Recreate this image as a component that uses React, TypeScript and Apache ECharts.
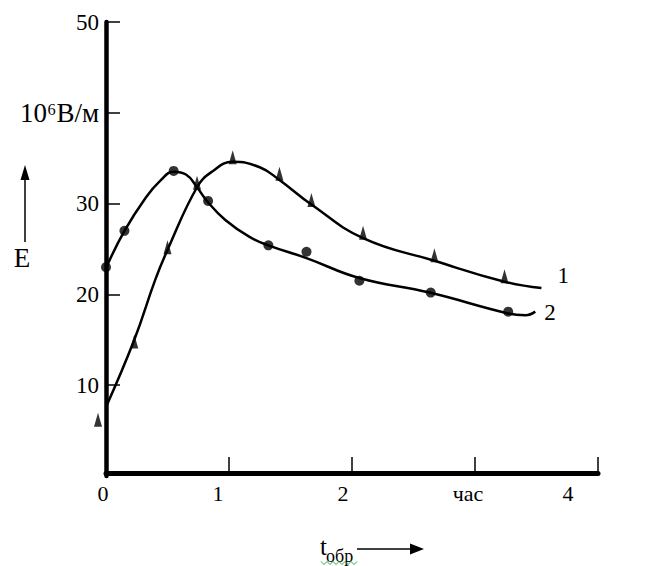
import React, { useEffect, useRef } from 'react';
import * as echarts from 'echarts';

// Axis tick labels
const xTickValues = [0, 1, 2, 3, 4];
const xTickLabels = ['0', '1', '2', 'час', '4'];
const yTickValues = [10, 20, 30, 40, 50];
const yTickLabels = ['10', '20', '30', '10⁶В/м', '50'];

// Curve 1 (fitted line) and its measured points (triangles)
const curve1X = [0, 0.23, 0.4, 0.5, 0.74, 0.86, 1.03, 1.25, 1.41, 1.67, 2.09, 2.67, 3.24, 3.54];
const curve1Y = [7.6, 15.0, 21.6, 24.9, 31.8, 33.5, 34.6, 34.0, 32.6, 29.9, 26.2, 23.7, 21.4, 20.7];
const tri1X = [-0.065, 0.23, 0.5, 0.74, 1.03, 1.41, 1.67, 2.09, 2.67, 3.24];
const tri1Y = [6.2, 14.8, 25.2, 32.3, 35.1, 33.3, 30.4, 26.8, 24.3, 22.0];

// Curve 2 (fitted line) and its measured points (circles)
const curve2X = [0, 0.15, 0.32, 0.44, 0.55, 0.65, 0.74, 0.82, 0.97, 1.17, 1.32, 1.63, 2.06, 2.63, 3.27, 3.41, 3.49];
const curve2Y = [22.9, 27.0, 30.6, 32.5, 33.5, 33.2, 31.8, 30.3, 28.2, 26.3, 25.4, 24.0, 21.8, 20.2, 17.9, 17.7, 18.1];
const circ2X = [0, 0.15, 0.55, 0.83, 1.32, 1.63, 2.06, 2.64, 3.27];
const circ2Y = [23.0, 27.0, 33.6, 30.3, 25.4, 24.7, 21.5, 20.2, 18.1];

const seriesNames = ['1', '2'];

const FONT = "'Liberation Serif', 'Times New Roman', serif";

const zip = (xs: number[], ys: number[]) => xs.map((x, i) => [x, ys[i]]);

export default function App() {
  const ref = useRef<HTMLDivElement>(null);

  useEffect(() => {
    if (!ref.current) return;
    const chart = echarts.init(ref.current, null, { renderer: 'svg' });

    const squiggle: number[][] = [];
    for (let i = 0; i <= 12; i++) squiggle.push([321 + i * 3, i % 2 === 0 ? 561.5 : 564.5]);

    const base = { fontFamily: FONT, fontSize: 22, color: '#000' };
    const xRich: Record<string, any> = {
      p0: { ...base, padding: [0, 6, 0, 0] },
      p1: { ...base, padding: [0, 22, 0, 0] },
      p2: { ...base, padding: [0, 18, 0, 0] },
      p3: { ...base, padding: [0, 14, 0, 0] },
      p4: { ...base, padding: [0, 60, 0, 0] },
    };

    chart.setOption({
      animation: false,
      backgroundColor: '#fff',
      textStyle: { fontFamily: FONT },
      grid: { left: 106, right: 47, top: 22, bottom: 90, containLabel: false },
      xAxis: {
        type: 'value',
        min: 0,
        max: 4,
        interval: 1,
        offset: -3,
        axisLine: { show: true, onZero: false, lineStyle: { color: '#000', width: 5 } },
        axisTick: { show: true, inside: true, length: 16, lineStyle: { color: '#000', width: 1.5 } },
        axisLabel: {
          margin: 9,
          color: '#000',
          fontFamily: FONT,
          fontSize: 22,
          formatter: (v: number) => {
            const i = xTickValues.indexOf(Math.round(v * 1000) / 1000);
            return i >= 0 ? `{p${i}|${xTickLabels[i]}}` : '';
          },
          rich: xRich,
        },
        splitLine: { show: false },
      },
      yAxis: {
        type: 'value',
        min: 0,
        max: 50,
        interval: 10,
        axisLine: { show: true, lineStyle: { color: '#000', width: 4.5 } },
        axisTick: {
          show: true,
          inside: true,
          length: 14,
          customValues: yTickValues,
          lineStyle: { color: '#000', width: 1.5 },
        },
        axisLabel: {
          margin: 7,
          color: '#000',
          fontFamily: FONT,
          fontSize: 23,
          customValues: yTickValues,
          formatter: (v: number) => {
            const i = yTickValues.indexOf(Math.round(v));
            if (i < 0) return '';
            return v === 40 ? `{u|${yTickLabels[i]}}` : yTickLabels[i];
          },
          rich: { u: { fontFamily: FONT, fontSize: 27, color: '#000', padding: [0, 0, 0, 0] } },
        },
        splitLine: { show: false },
      },
      series: [
        {
          name: seriesNames[0],
          type: 'line',
          data: zip(curve1X, curve1Y),
          smooth: 0.45,
          showSymbol: false,
          lineStyle: { color: '#000', width: 2.5 },
          endLabel: {
            show: true,
            formatter: seriesNames[0],
            color: '#000',
            fontFamily: FONT,
            fontSize: 23,
            offset: [8, -13],
          },
          z: 2,
        },
        {
          name: seriesNames[1],
          type: 'line',
          data: zip(curve2X, curve2Y),
          smooth: 0.45,
          showSymbol: false,
          lineStyle: { color: '#000', width: 2.5 },
          endLabel: {
            show: true,
            formatter: seriesNames[1],
            color: '#000',
            fontFamily: FONT,
            fontSize: 23,
            offset: [1, 1],
          },
          z: 2,
        },
        {
          type: 'scatter',
          data: zip(tri1X, tri1Y),
          symbol: 'triangle',
          symbolSize: [8, 14],
          itemStyle: { color: '#000' },
          clip: false,
          z: 3,
        },
        {
          type: 'scatter',
          data: zip(circ2X, circ2Y),
          symbol: 'circle',
          symbolSize: 10,
          itemStyle: { color: '#000' },
          clip: false,
          z: 3,
        },
      ],
      graphic: [
        { type: 'line', shape: { x1: 25, y1: 242, x2: 25, y2: 178 }, style: { stroke: '#000', lineWidth: 1.5 } },
        { type: 'polygon', shape: { points: [[25, 165], [20.5, 180], [29.5, 180]] }, style: { fill: '#000' } },
        {
          type: 'text',
          style: { text: 'E', x: 22, y: 258, align: 'center', verticalAlign: 'middle', fontSize: 27, fontFamily: FONT, fill: '#000' },
        },
        {
          type: 'text',
          style: { text: 't', x: 320, y: 546, align: 'left', verticalAlign: 'middle', fontSize: 25, fontFamily: FONT, fill: '#000' },
        },
        {
          type: 'text',
          style: { text: 'обр', x: 326, y: 556, align: 'left', verticalAlign: 'middle', fontSize: 18, fontFamily: FONT, fill: '#000' },
        },
        { type: 'polyline', shape: { points: squiggle }, style: { stroke: '#2fa84f', lineWidth: 1, fill: null } },
        { type: 'line', shape: { x1: 357, y1: 549, x2: 412, y2: 549 }, style: { stroke: '#000', lineWidth: 1.5 } },
        { type: 'polygon', shape: { points: [[424, 549], [410, 543.5], [410, 554.5]] }, style: { fill: '#000' } },
      ],
    });

    return () => chart.dispose();
  }, []);

  return (
    <div
      ref={ref}
      style={{ position: 'fixed', left: 0, top: 0, width: 645, height: 566, background: '#fff' }}
    />
  );
}
